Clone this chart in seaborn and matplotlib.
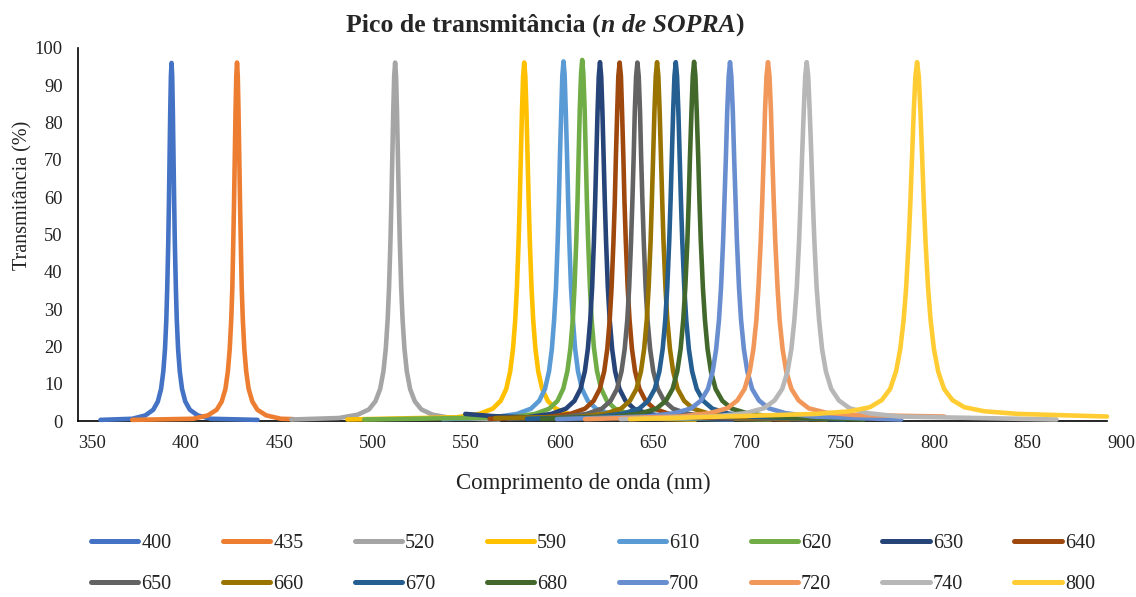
import pandas as pd
import matplotlib
matplotlib.use("Agg")
import matplotlib.pyplot as plt
import matplotlib.transforms as mtransforms
import seaborn as sns

# Values (wavelength in nm, transmittance in %)
series_names = ['400', '435', '520', '590', '610', '620', '630', '640',
                '650', '660', '670', '680', '700', '720', '740', '800']
colors = ['#4472C4', '#ED7D31', '#A5A5A5', '#FFC000', '#5B9BD5', '#70AD47', '#264478', '#9E480E',
          '#636363', '#997300', '#255E91', '#43682B', '#698ED0', '#F1975A', '#B7B7B7', '#FFCD33']

wl_400 = [362, 379, 386, 390.2, 392.65, 394.4, 395.6, 396.5, 397.2, 397.7, 398.25, 398.6, 398.95, 399.3, 399.65, 400,
          400.35, 400.7, 401.05, 401.4, 401.75, 402.3, 402.8, 403.5, 404.4, 405.6, 407.35, 409.8, 414, 421, 446]
t_400 = [0.3, 0.6, 1.5, 3.0, 5.2, 8.6, 13.3, 19.3, 27.1, 35.8, 48.1, 58.6, 70.7, 82.9, 92.4, 96.0,
         92.4, 82.9, 70.7, 58.6, 48.1, 35.8, 27.1, 19.3, 13.3, 8.6, 5.2, 3.0, 1.5, 0.6, 0.3]

wl_435 = [379, 411.6, 419.4, 424.1, 426.8, 428.8, 430.1, 431.1, 431.9, 432.5, 433.0, 433.4, 433.8, 434.2, 434.6, 435,
          435.4, 435.8, 436.2, 436.6, 437.0, 437.5, 438.1, 438.9, 439.9, 441.2, 443.2, 445.9, 450.6, 458.4, 465]
t_435 = [0.3, 0.6, 1.5, 3.0, 5.2, 8.6, 13.3, 19.3, 27.1, 35.8, 48.1, 58.6, 70.7, 82.9, 92.4, 96.1,
         92.4, 82.9, 70.7, 58.6, 48.1, 35.8, 27.1, 19.3, 13.3, 8.6, 5.2, 3.0, 1.5, 0.6, 0.5]

wl_520 = [464, 489.5, 499.5, 505.5, 509, 511.5, 513.25, 514.5, 515.5, 516.25, 517, 517.5, 518, 518.5, 519, 519.5,
          520, 520.5, 521, 521.5, 522, 522.75, 523.5, 524.5, 525.75, 527.5, 530, 533.5, 539.5, 549.5, 575]
t_520 = [0.4, 0.8, 1.7, 3.1, 5.3, 8.6, 13.3, 19.3, 27.1, 35.8, 48.1, 58.6, 70.7, 82.9, 92.4, 96.1,
         92.4, 82.9, 70.7, 58.6, 48.1, 35.8, 27.1, 19.3, 13.3, 8.6, 5.3, 3.1, 1.7, 0.8, 0.4]

wl_590 = [494, 552.5, 564.5, 571.7, 575.9, 578.9, 581, 582.5, 583.7, 584.6, 585.5, 586.1, 586.7, 587.3, 587.9, 588.5,
          589.1, 589.7, 590.3, 590.9, 591.5, 592.4, 593.3, 594.5, 596, 598.1, 601.1, 605.3, 612.5, 624.5, 680]
t_590 = [0.4, 1.0, 1.9, 3.3, 5.4, 8.6, 13.3, 19.3, 27.1, 35.8, 48.1, 58.6, 70.7, 82.9, 92.4, 96.1,
         92.4, 82.9, 70.7, 58.6, 48.1, 35.8, 27.1, 19.3, 13.3, 8.6, 5.4, 3.3, 1.9, 1.0, 0.4]

wl_610 = [545, 572.3, 584.7, 592.1, 596.5, 599.6, 601.75, 603.3, 604.5, 605.5, 606.4, 607.0, 607.6, 608.3, 608.9, 609.5,
          610.1, 610.7, 611.4, 612.0, 612.6, 613.5, 614.5, 615.7, 617.25, 619.4, 622.5, 626.9, 634.3, 646.7, 700]
t_610 = [0.5, 1.0, 1.9, 3.3, 5.4, 8.6, 13.3, 19.4, 27.2, 35.9, 48.3, 58.8, 71.0, 83.2, 92.8, 96.4,
         92.8, 83.2, 71.0, 58.8, 48.3, 35.9, 27.2, 19.4, 13.3, 8.6, 5.4, 3.3, 1.9, 1.0, 0.4]

wl_620 = [503, 581.7, 594.3, 601.9, 606.3, 609.4, 611.6, 613.2, 614.5, 615.4, 616.35, 617.0, 617.6, 618.2, 618.9, 619.5,
          620.1, 620.8, 621.4, 622.0, 622.65, 623.6, 624.5, 625.8, 627.4, 629.6, 632.7, 637.1, 644.7, 657.3, 720]
t_620 = [0.4, 1.0, 1.9, 3.3, 5.4, 8.7, 13.4, 19.5, 27.3, 36.1, 48.5, 59.1, 71.3, 83.6, 93.2, 96.8,
         93.2, 83.6, 71.3, 59.1, 48.5, 36.1, 27.3, 19.5, 13.4, 8.7, 5.4, 3.3, 1.9, 1.0, 0.4]

wl_630 = [557, 572, 590, 603, 610.8, 615.35, 618.6, 620.9, 622.5, 623.8, 624.8, 625.75, 626.4, 627.05, 627.7, 628.35, 629,
          629.65, 630.3, 630.95, 631.6, 632.25, 633.2, 634.2, 635.5, 637.1, 639.4, 642.65, 647.2, 655, 668, 700]
t_630 = [1.9, 1.3, 1.0, 1.9, 3.3, 5.4, 8.6, 13.3, 19.3, 27.1, 35.8, 48.1, 58.6, 70.7, 82.9, 92.4, 96.2,
         92.4, 82.9, 70.7, 58.6, 48.1, 35.8, 27.1, 19.3, 13.3, 8.6, 5.4, 3.3, 1.9, 1.0, 0.5]

wl_640 = [570, 599.9, 613.1, 621, 625.6, 628.9, 631.25, 632.9, 634.2, 635.2, 636.2, 636.9, 637.5, 638.2, 638.8, 639.5,
          640.2, 640.8, 641.5, 642.1, 642.8, 643.8, 644.8, 646.1, 647.75, 650.1, 653.4, 658, 665.9, 679.1, 730]
t_640 = [0.6, 1.0, 1.9, 3.3, 5.4, 8.6, 13.3, 19.3, 27.1, 35.8, 48.1, 58.6, 70.7, 82.9, 92.4, 96.1,
         92.4, 82.9, 70.7, 58.6, 48.1, 35.8, 27.1, 19.3, 13.3, 8.6, 5.4, 3.3, 1.9, 1.0, 0.4]

wl_650 = [580, 608.2, 621.8, 630, 634.7, 638.1, 640.5, 642.2, 643.6, 644.6, 645.6, 646.3, 647, 647.6, 648.3, 649,
          649.7, 650.4, 651, 651.7, 652.4, 653.4, 654.4, 655.8, 657.5, 659.9, 663.3, 668, 676.2, 689.8, 740]
t_650 = [0.6, 1.0, 1.9, 3.3, 5.4, 8.6, 13.3, 19.3, 27.1, 35.8, 48.1, 58.6, 70.7, 82.9, 92.4, 96.1,
         92.4, 82.9, 70.7, 58.6, 48.1, 35.8, 27.1, 19.3, 13.3, 8.6, 5.4, 3.3, 1.9, 1.0, 0.4]

wl_660 = [573, 618.1, 631.9, 640.2, 645, 648.5, 650.9, 652.6, 654, 655, 656.05, 656.7, 657.4, 658.1, 658.8, 659.5,
          660.2, 660.9, 661.6, 662.3, 662.95, 664, 665, 666.4, 668.1, 670.5, 674, 678.8, 687.1, 700.9, 750]
t_660 = [0.8, 1.1, 2.0, 3.3, 5.4, 8.6, 13.3, 19.3, 27.1, 35.8, 48.1, 58.6, 70.7, 82.9, 92.4, 96.2,
         92.4, 82.9, 70.7, 58.6, 48.1, 35.8, 27.1, 19.3, 13.3, 8.6, 5.4, 3.3, 2.0, 1.1, 0.4]

wl_670 = [590, 627.5, 641.5, 649.9, 654.8, 658.3, 660.75, 662.5, 663.9, 664.95, 666, 666.7, 667.4, 668.1, 668.8, 669.5,
          670.2, 670.9, 671.6, 672.3, 673, 674.05, 675.1, 676.5, 678.25, 680.7, 684.2, 689.1, 697.5, 711.5, 760]
t_670 = [0.6, 1.1, 2.0, 3.3, 5.4, 8.6, 13.3, 19.3, 27.1, 35.8, 48.1, 58.6, 70.7, 82.9, 92.4, 96.2,
         92.4, 82.9, 70.7, 58.6, 48.1, 35.8, 27.1, 19.3, 13.3, 8.6, 5.4, 3.3, 2.0, 1.1, 0.4]

wl_680 = [598, 636.1, 650.5, 659.1, 664.2, 667.8, 670.3, 672.1, 673.5, 674.6, 675.7, 676.4, 677.1, 677.9, 678.6, 679.3,
          680, 680.7, 681.5, 682.2, 682.9, 684, 685.1, 686.5, 688.3, 690.8, 694.4, 699.5, 708.1, 722.5, 770]
t_680 = [0.6, 1.1, 2.0, 3.3, 5.4, 8.6, 13.3, 19.3, 27.1, 35.8, 48.1, 58.6, 70.8, 83.0, 92.5, 96.3,
         92.5, 83.0, 70.8, 58.6, 48.1, 35.8, 27.1, 19.3, 13.3, 8.6, 5.4, 3.3, 2.0, 1.1, 0.4]

wl_700 = [606, 654.1, 668.9, 677.8, 683, 686.7, 689.25, 691.1, 692.6, 693.7, 694.8, 695.5, 696.3, 697, 697.8, 698.5,
          699.2, 700, 700.7, 701.5, 702.2, 703.3, 704.4, 705.9, 707.75, 710.3, 714, 719.2, 728.1, 742.9, 790]
t_700 = [0.5, 1.2, 2.1, 3.4, 5.5, 8.6, 13.3, 19.3, 27.1, 35.8, 48.1, 58.6, 70.7, 82.9, 92.4, 96.2,
         92.4, 82.9, 70.7, 58.6, 48.1, 35.8, 27.1, 19.3, 13.3, 8.6, 5.5, 3.4, 2.1, 1.2, 0.4]

wl_720 = [621, 672, 687.6, 697, 702.4, 706.3, 709.05, 711, 712.6, 713.7, 714.9, 715.7, 716.5, 717.2, 718, 718.8,
          719.6, 720.4, 721.1, 721.9, 722.7, 723.9, 725, 726.6, 728.55, 731.3, 735.2, 740.6, 750, 765.6, 813]
t_720 = [0.5, 1.2, 2.1, 3.4, 5.5, 8.6, 13.3, 19.3, 27.1, 35.8, 48.1, 58.6, 70.7, 82.9, 92.4, 96.2,
         92.4, 82.9, 70.7, 58.6, 48.1, 35.8, 27.1, 19.3, 13.3, 8.6, 5.5, 3.4, 2.2, 1.6, 1.2]

wl_740 = [640, 690.3, 706.7, 716.5, 722.3, 726.4, 729.25, 731.3, 732.9, 734.2, 735.4, 736.2, 737, 737.9, 738.7, 739.5,
          740.3, 741.1, 742, 742.8, 743.6, 744.8, 746.1, 747.7, 749.75, 752.6, 756.7, 762.5, 772.3, 788.7, 873]
t_740 = [0.5, 1.2, 2.1, 3.4, 5.5, 8.6, 13.3, 19.3, 27.1, 35.8, 48.1, 58.6, 70.7, 82.9, 92.4, 96.2,
         92.4, 82.9, 70.7, 58.6, 48.1, 35.8, 27.1, 19.3, 13.3, 8.6, 5.5, 3.4, 2.1, 1.2, 0.4]

wl_800 = [645, 744.5, 762.5, 773.3, 779.6, 784.1, 787.25, 789.5, 791.3, 792.65, 794, 794.9, 795.8, 796.7, 797.6, 798.5,
          799.4, 800.3, 801.2, 802.1, 803, 804.35, 805.7, 807.5, 809.75, 812.9, 817.4, 823.7, 834.5, 852.5, 900]
t_800 = [0.5, 1.9, 2.6, 3.7, 5.6, 8.6, 13.3, 19.3, 27.1, 35.8, 48.1, 58.6, 70.7, 82.9, 92.4, 96.2,
         92.4, 82.9, 70.7, 58.6, 48.1, 35.8, 27.1, 19.3, 13.3, 8.6, 5.6, 3.7, 2.6, 1.9, 1.2]

x_ticks = [350, 400, 450, 500, 550, 600, 650, 700, 750, 800, 850, 900]
y_ticks = [0, 10, 20, 30, 40, 50, 60, 70, 80, 90, 100]

all_wl = [wl_400, wl_435, wl_520, wl_590, wl_610, wl_620, wl_630, wl_640,
          wl_650, wl_660, wl_670, wl_680, wl_700, wl_720, wl_740, wl_800]
all_t = [t_400, t_435, t_520, t_590, t_610, t_620, t_630, t_640,
         t_650, t_660, t_670, t_680, t_700, t_720, t_740, t_800]

# long table for seaborn
rows = []
for name, xs, ys in zip(series_names, all_wl, all_t):
    for x, y in zip(xs, ys):
        rows.append((name, x, y))
df = pd.DataFrame(rows, columns=['serie', 'wl', 'T'])

sns.set_theme(style='white')
plt.rcParams['font.family'] = ['Liberation Serif', 'DejaVu Serif']

fig = plt.figure(figsize=(11.36, 5.97), dpi=100)
ax = fig.add_axes([78 / 1136, 1 - 421 / 597, (1107 - 78) / 1136, (421 - 48) / 597])

sns.lineplot(data=df, x='wl', y='T', hue='serie', hue_order=series_names,
             palette=colors, linewidth=3.3, estimator=None, sort=False,
             ax=ax, clip_on=False, solid_capstyle='round', solid_joinstyle='round')

ax.set_xlim(350, 900)
ax.set_ylim(0, 100)
ax.set_xticks(x_ticks)
ax.set_yticks(y_ticks)
ax.tick_params(axis='both', length=0, labelsize=13.3, colors='#222222')
ax.tick_params(axis='x', pad=10)
ax.tick_params(axis='y', pad=11)

# the reference draws x tick labels a bit right of their ticks
shift = mtransforms.ScaledTranslation(0.14, 0, fig.dpi_scale_trans)
for lab in ax.get_xticklabels():
    lab.set_transform(lab.get_transform() + shift)

for side in ['top', 'right']:
    ax.spines[side].set_visible(False)
for side in ['left', 'bottom']:
    ax.spines[side].set_color('black')
    ax.spines[side].set_linewidth(1.2)
    ax.spines[side].set_zorder(1)

ax.set_xlabel('Comprimento de onda (nm)', fontsize=16.5, color='#222222', va='center')
ax.xaxis.set_label_coords((583 - 78) / 1029, (421 - 483) / 373)
ax.set_ylabel('Transmitância (%)', fontsize=14.5, color='#222222', va='center')
ax.yaxis.set_label_coords((23 - 78) / 1029, (421 - 195) / 373)

# title: bold with italic part
t1 = fig.text(346 / 1136, 1 - 32 / 597, 'Pico de transmitância (', fontsize=18.5,
              fontweight='bold', va='baseline', ha='left')
t2 = ax.annotate('n de SOPRA', xy=(1, 0), xycoords=t1, va='bottom', ha='left',
                 fontsize=18.5, fontweight='bold', fontstyle='italic')
t3 = ax.annotate(')', xy=(1, 0), xycoords=t2, va='bottom', ha='left',
                 fontsize=18.5, fontweight='bold')

# legend, filled row by row
handles, labels = ax.get_legend_handles_labels()
ax.get_legend().remove()
order = []
for c in range(8):
    order += [c, c + 8]
leg = fig.legend([handles[i] for i in order], [labels[i] for i in order],
                 ncol=8, loc='center', bbox_to_anchor=(593 / 1136, 1 - 564 / 597),
                 frameon=False, fontsize=14.5, handlelength=2.35, handletextpad=0.15,
                 columnspacing=2.55, labelspacing=1.1)
for line in leg.get_lines():
    line.set_linewidth(3.6)
for txt in leg.get_texts():
    txt.set_color('#222222')

fig.savefig('out.png', dpi=100)
